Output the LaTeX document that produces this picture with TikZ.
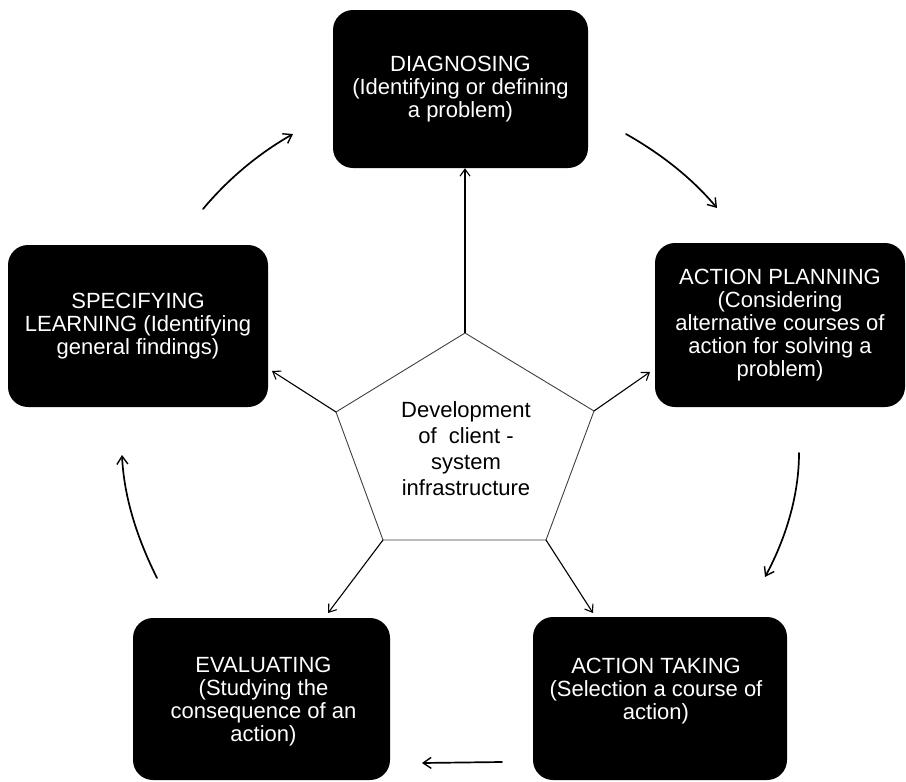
\documentclass[tikz,border=0pt]{standalone}
\usepackage{fontspec}
\setmainfont{Liberation Sans}
\usetikzlibrary{arrows.meta}
\begin{document}
\begin{tikzpicture}[x=1pt,y=-1pt,
  phase/.style={rounded corners=20pt, fill=black, text=white, align=center,
    font=\fontsize{22}{23}\selectfont, inner sep=0pt},
  phasetext/.style={text=white, align=center, font=\fontsize{22}{23}\selectfont, inner sep=0pt},
  hub/.style={align=center, font=\fontsize{22}{26}\selectfont, inner sep=0pt},
  rim/.style={draw=black!75, line width=0.9pt, line join=round},
  spoke/.style={line width=1.1pt, -{Straight Barb[length=7pt,width=10pt,line width=1.1pt]}},
  cycle/.style={line width=1.7pt, line cap=round, -{Straight Barb[length=8pt,width=11pt,line width=1.4pt]}}
]
\useasboundingbox (0,0) rectangle (906,782);

% phase boxes
\node[phase, minimum width=255pt, minimum height=158pt] (diag) at (460.5,89)
  {DIAGNOSING\\(Identifying or defining\\a problem)};
\node[phase, minimum width=250pt, minimum height=164pt] (plan) at (780,325)
  {ACTION PLANNING\\(Considering\\alternative courses of\\action for solving a\\problem)};
\node[phase, minimum width=254pt, minimum height=163pt] (take) at (660,698.5) {};
\node[phasetext] at ([xshift=-4pt,yshift=7pt]take.center)
  {ACTION TAKING\\(Selection a course of\\action)};
\node[phase, minimum width=257pt, minimum height=162pt] (eval) at (261.5,699) {};
\node[phasetext] at ([xshift=2pt,yshift=-3pt]eval.center)
  {EVALUATING\\(Studying the\\consequence of an\\action)};
\node[phase, minimum width=260pt, minimum height=162pt] (spec) at (138,326)
  {SPECIFYING\\LEARNING (Identifying\\general findings)};

% central pentagon
\coordinate (pT)  at (465,333);
\coordinate (pUR) at (594,411);
\coordinate (pLR) at (546,540);
\coordinate (pLL) at (383,540);
\coordinate (pUL) at (336,412);
\draw[rim] (pT) -- (pUR) -- (pLR) -- (pLL) -- (pUL) -- cycle;
\node[hub] (core) at (466,449) {Development\\of~~client -\\system\\infrastructure};

% spokes from the pentagon corners
\coordinate (tUR) at (650,372);
\coordinate (tLR) at (593,613);
\coordinate (tLL) at (328,613);
\coordinate (tUL) at (272,371);
\draw[spoke] (pT) -- (pT |- diag.south);
\draw[spoke] (pUR) -- (tUR);
\draw[spoke] (pLR) -- (tLR);
\draw[spoke] (pLL) -- (tLL);
\draw[spoke] (pUL) -- (tUL);

% outer cycle arrows
\coordinate (c1a) at (203,209);  \coordinate (c1b) at (293,134);
\coordinate (c2a) at (626,134);  \coordinate (c2b) at (717,208);
\coordinate (c3a) at (799,453);  \coordinate (c3b) at (765,577);
\coordinate (c4a) at (502,762);  \coordinate (c4b) at (422,763);
\coordinate (c5a) at (157,578);  \coordinate (c5b) at (122,455);
\draw[cycle] (c1a) .. controls (228.5,178.6) and (258.5,153.6) .. (c1b);
\draw[cycle] (c2a) .. controls (660.4,153.5) and (691.4,177.5) .. (c2b);
\draw[cycle] (c3a) .. controls (799,495) and (786,538) .. (c3b);
\draw[cycle] (c4a) -- (c4b);
\draw[cycle] (c5a) .. controls (137.6,539.2) and (124,498) .. (c5b);
\end{tikzpicture}
\end{document}
